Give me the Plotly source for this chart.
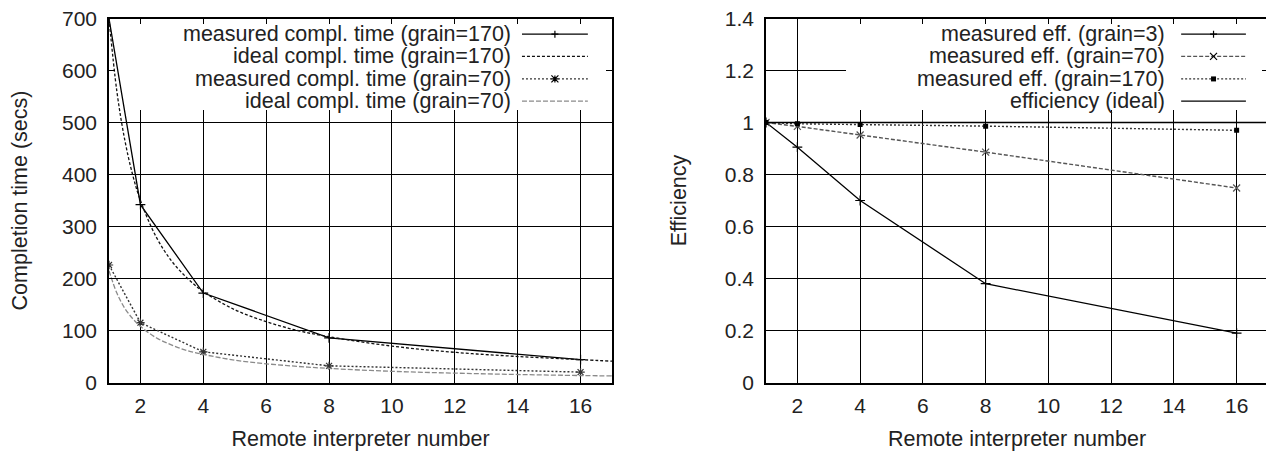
import plotly.graph_objects as go

# ---------------- data ----------------
procs = [1, 2, 4, 8, 16]

# left chart: completion time (secs)
meas_time_170 = [700, 342, 172, 86, 44]
meas_time_70 = [226, 115, 59, 32, 20]
ideal_x = [1, 1.25, 1.5, 1.75, 2, 2.5, 3, 3.5, 4, 5, 6, 7, 8, 10, 12, 14, 16, 17]
ideal_time_170 = [700, 560, 467, 400, 350, 280, 233, 200, 175, 140, 117, 100, 88, 70, 58, 50, 44, 41]
ideal_time_70 = [215, 172, 143, 123, 108, 86, 72, 61, 54, 43, 36, 31, 27, 21.5, 18, 15.4, 13.4, 12.6]

# right chart: efficiency
eff_3 = [1.0, 0.905, 0.70, 0.38, 0.19]
eff_70 = [1.0, 0.985, 0.952, 0.886, 0.748]
eff_170 = [1.0, 0.995, 0.992, 0.986, 0.97]
ideal_eff_x = [1, 17]
ideal_eff = [1.0, 1.0]

x_ticks = [2, 4, 6, 8, 10, 12, 14, 16]
left_y_ticks = [0, 100, 200, 300, 400, 500, 600, 700]
right_y_ticks = [0, 0.2, 0.4, 0.6, 0.8, 1.0, 1.2, 1.4]
right_y_text = ["0", "0.2", "0.4", "0.6", "0.8", "1", "1.2", "1.4"]

left_labels = ["measured compl. time (grain=170)", "ideal compl. time (grain=170)",
               "measured compl. time (grain=70)", "ideal compl. time (grain=70)"]
right_labels = ["measured eff. (grain=3)", "measured eff. (grain=70)",
                "measured eff. (grain=170)", "efficiency (ideal)"]

FONT = "Liberation Sans, Arial, Helvetica, sans-serif"
TXT = "#222222"
W, H = 1274, 455
OFF = 8  # page body margin


def px(xp):
    return (xp - OFF) / W


def py(yp):
    return 1 - (yp - OFF) / H


# styles
S_SOLID = dict(color="black", width=1.3, dash="solid")
S_FINE = dict(color="#111111", width=1.3, dash="3px,2px")
S_DOT = dict(color="#333333", width=1.4, dash="2px,2px")
S_GREY = dict(color="#8a8a8a", width=1.3, dash="5px,2px")
S_DASH = dict(color="#555555", width=1.4, dash="4px,2px")

fig = go.Figure()

# ---- left chart traces
fig.add_trace(go.Scatter(x=procs, y=meas_time_170, mode="lines+markers", line=S_SOLID,
                         marker=dict(symbol="cross-thin-open", size=7, line=dict(color="black", width=1.2)),
                         xaxis="x", yaxis="y", showlegend=False))
fig.add_trace(go.Scatter(x=ideal_x, y=ideal_time_170, mode="lines", line=dict(S_FINE, shape="spline"),
                         xaxis="x", yaxis="y", showlegend=False))
fig.add_trace(go.Scatter(x=procs, y=meas_time_70, mode="lines+markers", line=S_DOT,
                         marker=dict(symbol="asterisk-open", size=7, line=dict(color="black", width=1.2)),
                         xaxis="x", yaxis="y", showlegend=False))
fig.add_trace(go.Scatter(x=ideal_x, y=ideal_time_70, mode="lines", line=dict(S_GREY, shape="spline"),
                         xaxis="x", yaxis="y", showlegend=False))

# ---- right chart traces
fig.add_trace(go.Scatter(x=procs, y=eff_3, mode="lines+markers", line=S_SOLID,
                         marker=dict(symbol="cross-thin-open", size=7, line=dict(color="black", width=1.2)),
                         xaxis="x2", yaxis="y2", showlegend=False))
fig.add_trace(go.Scatter(x=procs, y=eff_70, mode="lines+markers", line=S_DASH,
                         marker=dict(symbol="x-thin-open", size=7, line=dict(color="black", width=1.2)),
                         xaxis="x2", yaxis="y2", showlegend=False))
fig.add_trace(go.Scatter(x=procs, y=eff_170, mode="lines+markers", line=S_DOT,
                         marker=dict(symbol="square", size=5, color="black"),
                         xaxis="x2", yaxis="y2", showlegend=False))
fig.add_trace(go.Scatter(x=ideal_eff_x, y=ideal_eff, mode="lines", line=S_SOLID,
                         xaxis="x2", yaxis="y2", showlegend=False))


# ---- axes
def xax(domain, anchor):
    return dict(domain=domain, anchor=anchor, range=[1, 17], tickvals=x_ticks,
                showgrid=True, gridcolor="black", gridwidth=1.4,
                showline=True, linecolor="black", linewidth=1.5, mirror="ticks",
                ticks="inside", ticklen=6, tickwidth=1.3, tickcolor="black",
                zeroline=False, tickfont=dict(family=FONT, size=21, color=TXT),
                ticklabelstandoff=4, ticklabeloverflow="allow",
                title=dict(text="Remote interpreter number", font=dict(family=FONT, size=21.5, color=TXT),
                           standoff=14),
                automargin=False)


def yax(domain, anchor, rng, vals, text, title, standoff):
    return dict(domain=domain, anchor=anchor, range=rng, tickvals=vals, ticktext=text,
                showgrid=True, gridcolor="black", gridwidth=1.4,
                showline=True, linecolor="black", linewidth=1.5, mirror="ticks",
                ticks="inside", ticklen=6, tickwidth=1.3, tickcolor="black",
                zeroline=False, tickfont=dict(family=FONT, size=21, color=TXT),
                ticklabelstandoff=6, ticklabeloverflow="allow",
                title=dict(text=title, font=dict(family=FONT, size=21.5, color=TXT), standoff=standoff),
                automargin=False)


xd1 = [px(109), px(612)]
xd2 = [px(766), px(1268)]
yd = [py(382.5), py(18.5)]

fig.update_layout(
    width=W, height=H, margin=dict(l=0, r=0, t=0, b=0),
    paper_bgcolor="white", plot_bgcolor="white", showlegend=False,
    xaxis=xax(xd1, "y"), yaxis=yax(yd, "x", [0, 700], left_y_ticks, [str(v) for v in left_y_ticks],
                                    "Completion time (secs)", 36),
    xaxis2=xax(xd2, "y2"), yaxis2=yax(yd, "x2", [0, 1.4], right_y_ticks, right_y_text, "Efficiency", 32),
)

# ---- opaque key boxes (hide grid behind the key, below the curves)
fig.add_shape(type="rect", xref="x", yref="y", x0=1, x1=17, y0=524, y1=700,
              fillcolor="white", line=dict(width=0), layer="between")
fig.add_shape(type="rect", xref="x2", yref="y2", x0=3.55, x1=17, y0=1.048, y1=1.4,
              fillcolor="white", line=dict(width=0), layer="between")


# ---- keys (text right-aligned, sample to the right, gnuplot style)
def marker_path(kind, xc, yc, pw, ph, r):
    dx, dy = r / pw, r / ph
    if kind == "+":
        return f"M{xc-dx},{yc} L{xc+dx},{yc} M{xc},{yc-dy} L{xc},{yc+dy}"
    if kind == "x":
        return f"M{xc-dx},{yc-dy} L{xc+dx},{yc+dy} M{xc-dx},{yc+dy} L{xc+dx},{yc-dy}"
    if kind == "*":
        return (f"M{xc-dx},{yc} L{xc+dx},{yc} M{xc},{yc-dy} L{xc},{yc+dy} "
                f"M{xc-dx},{yc-dy} L{xc+dx},{yc+dy} M{xc-dx},{yc+dy} L{xc+dx},{yc-dy}")
    return None


def add_key(xn, labels, styles, marks, tx, sx0, sx1, rows, pw, ph):
    xr, yr = f"{xn} domain", f"{'y' if xn == 'x' else 'y2'} domain"
    for lab, st, mk, ry in zip(labels, styles, marks, rows):
        fig.add_annotation(xref=xr, yref=yr, x=tx, y=ry, text=lab, showarrow=False,
                           xanchor="right", yanchor="middle",
                           font=dict(family=FONT, size=21.5, color=TXT))
        fig.add_shape(type="line", xref=xr, yref=yr, x0=sx0, x1=sx1, y0=ry, y1=ry,
                      line=dict(color=st["color"], width=st["width"], dash=st["dash"]), layer="above")
        xc = (sx0 + sx1) / 2
        if mk == "sq":
            dx, dy = 2.5 / pw, 2.5 / ph
            fig.add_shape(type="rect", xref=xr, yref=yr, x0=xc - dx, x1=xc + dx, y0=ry - dy, y1=ry + dy,
                          fillcolor="black", line=dict(width=0), layer="above")
        elif mk:
            fig.add_shape(type="path", xref=xr, yref=yr, path=marker_path(mk, xc, ry, pw, ph, 3.5),
                          line=dict(color="black", width=1.2), layer="above")


rows_l = [0.957, 0.896, 0.834, 0.773]
add_key("x", left_labels, [S_SOLID, S_FINE, S_DOT, S_GREY], ["+", None, "*", None],
        0.803, 0.821, 0.952, rows_l, 503, 364)
rows_r = [0.957, 0.896, 0.834, 0.773]
add_key("x2", right_labels, [S_SOLID, S_DASH, S_DOT, S_SOLID], ["+", "x", "sq", None],
        0.798, 0.827, 0.956, rows_r, 502, 364)

fig.write_html("out.html")
